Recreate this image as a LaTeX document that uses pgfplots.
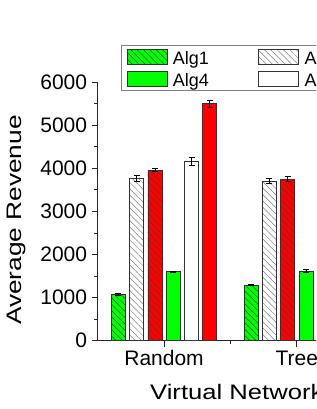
\documentclass[border=0pt]{standalone}
\usepackage{pgfplots}
\pgfplotsset{compat=1.18}
\usepackage{pgfplotstable}
\usetikzlibrary{patterns.meta}
\usepackage{fontspec}
\setmainfont{Liberation Sans}

\definecolor{myGreen}{RGB}{0,255,0}
\definecolor{myRed}{RGB}{255,0,0}

\pgfplotstableread{
x y e
0 1080 20
1 1290 15
}\algA
\pgfplotstableread{
x y e
0 3770 75
1 3710 65
}\algB
\pgfplotstableread{
x y e
0 3960 30
1 3750 55
}\algC
\pgfplotstableread{
x y e
0 1600 20
1 1620 25
}\algD
\pgfplotstableread{
x y e
0 4170 90
1 4100 80
}\algE
\pgfplotstableread{
x y e
0 5500 85
1 5400 90
}\algF

\pgfplotsset{
  myleg/.style={legend image code/.code={\draw[##1] (0pt,-7.5pt) rectangle (40pt,7.5pt);}},
  hatch/.style={postaction={pattern={Lines[angle=-45,distance=4.5pt,line width=0.5pt]}, pattern color=#1}},
  myerr/.style={error bars/.cd, y dir=both, y explicit,
     error bar style={line width=0.8pt, black},
     error mark options={rotate=90, line width=0.8pt, black, mark size=3pt}},
}
\newcommand{\legtxt}[1]{\makebox[91pt][l]{\rule[-3.8pt]{0pt}{20.4pt}\hspace{5.6pt}#1}}

\begin{document}
\begin{tikzpicture}
\path[use as bounding box, clip] (0,0) rectangle (316pt,409pt);
\begin{axis}[
  at={(97.7pt,68.3pt)}, anchor=south west,
  scale only axis, width=398.1pt, height=258.4pt,
  xmin=-0.5, xmax=2.5, ymin=0, ymax=6000,
  axis lines=left,
  axis line style={-, line width=1.2pt, black!85},
  xtick={0,1}, xticklabels={Random,Tree},
  minor xtick={0.5,1.5},
  ytick={0,1000,2000,3000,4000,5000,6000},
  yticklabels={0,1000,2000,3000,4000,5000,6000},
  minor ytick={500,1500,2500,3500,4500,5500},
  tick align=outside,
  major tick length=6pt, minor tick length=3.5pt,
  tick style={line width=1pt, black!85},
  tick label style={font=\fontsize{21}{25}\selectfont},
  yticklabel style={inner sep=0pt, anchor=east, xshift=-4.4pt},
  xticklabel style={inner sep=0pt, anchor=base, yshift=-19pt},
  xlabel={\scalebox{1.22}[1]{Virtual Network Topology}},
  ylabel={\scalebox{1.25}[1]{Average Revenue}},
  every axis x label/.style={at={(axis cs:-0.106,0)}, anchor=base west, yshift=-58.6pt, inner sep=0pt, font=\fontsize{21}{25}\selectfont},
  every axis y label/.style={at={(axis cs:-1.072,2802)}, rotate=90, anchor=base, inner sep=0pt, font=\fontsize{21}{25}\selectfont},
  ybar, bar width=14pt,
  legend columns=3,
  legend style={at={(axis cs:-0.3244,6873)}, anchor=north west,
     draw=black!50, line width=1pt, inner xsep=5pt, inner ysep=3pt,
     row sep=3.6pt, column sep=0pt,
     nodes={inner sep=0pt},
     font=\fontsize{18}{21}\selectfont},
  clip=false,
]
\addplot[fill=myGreen, draw=black!80, line width=0.8pt, bar shift=-45.75pt, hatch=black!75, myleg, myerr]
  table[x=x,y=y,y error=e]{\algA};
\addlegendentry{\legtxt{Alg1}}
\addplot[fill=white, draw=black!80, line width=0.8pt, bar shift=-27.45pt, hatch=black!50, myleg, myerr]
  table[x=x,y=y,y error=e]{\algB};
\addlegendentry{\legtxt{Alg2}}
\addplot[fill=myRed, draw=black!80, line width=0.8pt, bar shift=-9.15pt, hatch=black!75, myleg, myerr]
  table[x=x,y=y,y error=e]{\algC};
\addlegendentry{\legtxt{Alg3}}
\addplot[fill=myGreen, draw=black!80, line width=0.8pt, bar shift=9.15pt, myleg, myerr]
  table[x=x,y=y,y error=e]{\algD};
\addlegendentry{\legtxt{Alg4}}
\addplot[fill=white, draw=black!80, line width=0.8pt, bar shift=27.45pt, myleg, myerr]
  table[x=x,y=y,y error=e]{\algE};
\addlegendentry{\legtxt{Alg5}}
\addplot[fill=myRed, draw=black!80, line width=0.8pt, bar shift=45.75pt, myleg, myerr]
  table[x=x,y=y,y error=e]{\algF};
\addlegendentry{\legtxt{Alg6}}
\end{axis}
\end{tikzpicture}
\end{document}
